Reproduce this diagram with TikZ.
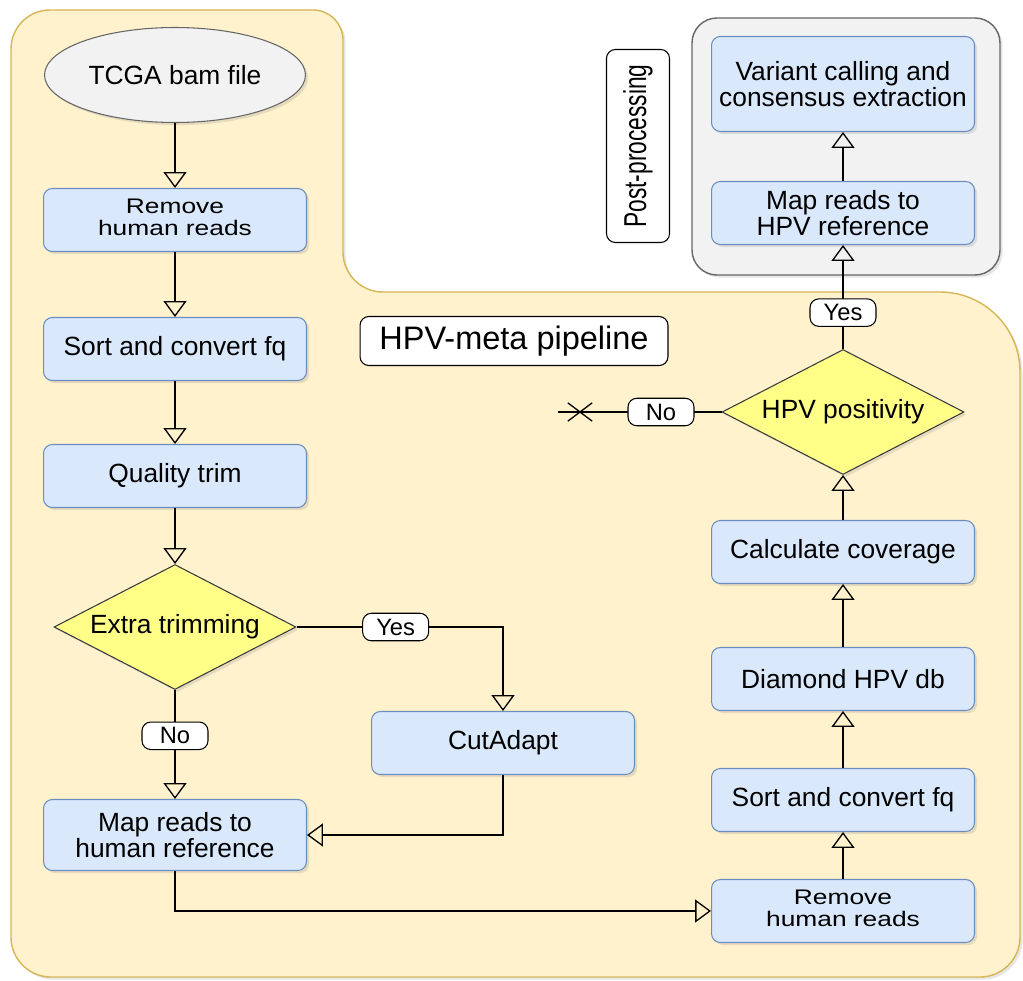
\documentclass[tikz,border=0pt]{standalone}
\usepackage{fontspec}
\setmainfont{Liberation Sans}
\usepackage{graphicx}
\usepackage{tikz}
\usetikzlibrary{shapes.geometric, shapes.misc, arrows.meta, shadows}
\definecolor{boxblue}{HTML}{DAE8FC}
\definecolor{boxline}{HTML}{6C8EBF}
\definecolor{pipefill}{HTML}{FFF2CC}
\definecolor{pipeborder}{HTML}{D6B656}
\definecolor{decfill}{HTML}{FFFF88}
\definecolor{decline}{HTML}{36393D}
\definecolor{groupfill}{HTML}{F2F2F2}
\definecolor{groupline}{HTML}{666666}
\newcommand{\squeezed}[1]{\scalebox{1}[0.8]{\begin{tabular}{@{}c@{}}#1\end{tabular}}}

\begin{document}
\begin{tikzpicture}[x=0.02cm, y=-0.02cm,
            softshadow/.style={
                drop shadow={shadow xshift=1.5pt, shadow yshift=-1.5pt, opacity=0.2}
            },
            box/.style={
                draw=boxline,
                fill=boxblue,
                rectangle,
                minimum width=5.26cm,
                minimum height=1.26cm,
                align=center,
                rounded corners=5pt,
                line width=0.6pt,
                font=\fontsize{15}{15}\selectfont,
                softshadow
            },
            tallbox/.style={box, minimum height=1.42cm},
            decision/.style={
                diamond, aspect=2,
                draw=decline,
                fill=decfill,
                minimum width=4.84cm,
                minimum height=2.5cm,
                inner sep=0pt,
                line width=0.6pt,
                font=\fontsize{15}{15}\selectfont,
                softshadow
            },
            startnode/.style={
                ellipse,
                draw=groupline,
                fill=groupfill,
                minimum width=4.6cm,
                minimum height=1.9cm,
                line width=0.6pt,
                font=\fontsize{15}{15}\selectfont,
                softshadow
            },
            tag/.style={
                draw, fill=white,
                rounded corners=5pt,
                minimum width=1.32cm,
                minimum height=0.55cm,
                inner sep=1pt,
                line width=0.6pt,
                font=\fontsize{13.5}{14}\selectfont
            },
            title/.style={
                draw, fill=white,
                rounded corners=5pt,
                minimum width=6.16cm,
                minimum height=0.98cm,
                line width=0.6pt,
                font=\fontsize{18.5}{20}\selectfont
            },
            flow/.style={-{Triangle[open, length=9pt, width=13pt]}, line width=0.75pt}
        ]
        \useasboundingbox (0,0) rectangle (1023,980);

        % groups
        \draw[fill=pipefill, draw=pipeborder, line width=0.8pt, softshadow]
            (11,500) [rounded corners=0.78cm] -- (11,10) [rounded corners=0.6cm] -- (343,10)
            [rounded corners=0.8cm] -- (343,292) [rounded corners=1.6cm] -- (1020,292)
            [rounded corners=0.8cm] -- (1020,977) -- (11,977) -- cycle;
        \draw[fill=groupfill, draw=groupline, line width=0.8pt, rounded corners=0.5cm, softshadow]
            (692,18) rectangle (1000,275);

        \node[title] (pipetitle) at (514,341) {HPV-meta pipeline};
        \node[title, rotate=90, minimum width=3.86cm, minimum height=1.26cm,
              font=\fontsize{18}{20}\selectfont] (posttitle) at (638,146) {\scalebox{0.72}[1]{Post-processing}};

        % left column
        \node[startnode] (tcga)  at (175,75)  {TCGA bam file};
        \node[box]       (rmA)   at (175,220) {\squeezed{Remove\\human reads}};
        \node[box]       (sortA) at (175,349) {Sort and convert fq};
        \node[box]       (trim)  at (175,476) {Quality trim};
        \node[decision]  (extra) at (175,627) {Extra trimming};
        \node[box]       (cut)   at (503,743) {CutAdapt};
        \node[tallbox]   (mapA)  at (175,835) {Map reads to\\human reference};

        % right column
        \node[box]       (rmB)   at (843,911) {\squeezed{Remove\\human reads}};
        \node[box]       (sortB) at (843,800) {Sort and convert fq};
        \node[box]       (dmd)   at (843,679) {Diamond HPV db};
        \node[box]       (cov)   at (843,552) {Calculate coverage};
        \node[decision]  (pos)   at (843,412) {HPV positivity};
        \node[box]       (mapB)  at (843,213) {Map reads to\\HPV reference};
        \node[box, minimum height=1.9cm] (var) at (843,84) {Variant calling and\\consensus extraction};

        \coordinate (stop) at (558,412);
        \node[cross out, draw, line width=0.75pt, inner sep=0pt,
              minimum width=0.46cm, minimum height=0.34cm] (cross) at (580,412) {};

        \draw[flow] (tcga) -- (rmA);
        \draw[flow] (rmA) -- (sortA);
        \draw[flow] (sortA) -- (trim);
        \draw[flow] (trim) -- (extra);
        \draw[flow] (extra) -- node[tag, pos=0.42] {No} (mapA);
        \draw[flow] (extra.east) -| node[tag, pos=0.24] {Yes} (cut.north);
        \draw[flow] (cut.south) |- (mapA.east);
        \draw[flow] (mapA.south) |- (rmB.west);

        \draw[flow] (rmB) -- (sortB);
        \draw[flow] (sortB) -- (dmd);
        \draw[flow] (dmd) -- (cov);
        \draw[flow] (cov) -- (pos);
        \draw[flow] (pos) -- node[tag, pos=0.35] {Yes} (mapB);
        \draw[flow] (mapB) -- (var);
        \draw[line width=0.75pt] (pos.west) -- node[tag, pos=0.37] {No} (stop);
        \end{tikzpicture}
\end{document}
